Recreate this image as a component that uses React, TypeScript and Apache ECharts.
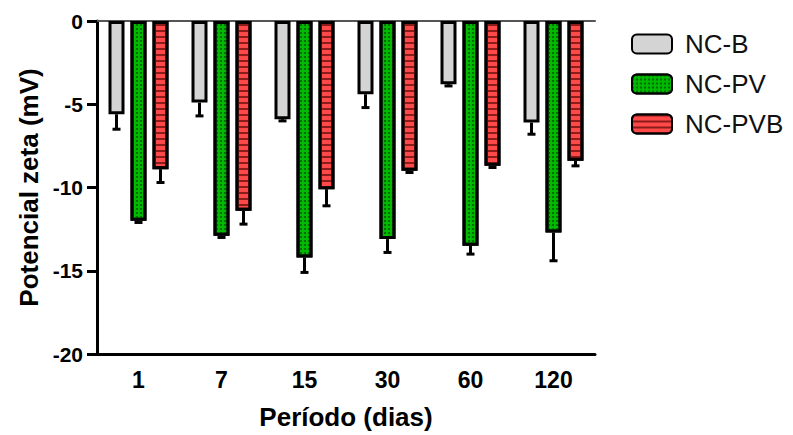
import React, { useEffect, useRef } from "react";
import * as echarts from "echarts";

// Período de armazenamento (dias)
const periods = ["1", "7", "15", "30", "60", "120"];

// Potencial zeta médio (mV) por formulação
const ncB = [-5.6, -4.9, -5.9, -4.4, -3.8, -6.1];
const ncPV = [-12.0, -12.9, -14.2, -13.1, -13.5, -12.7];
const ncPVB = [-8.9, -11.4, -10.1, -9.0, -8.7, -8.4];

// Desvio padrão (mV)
const ncBErr = [0.9, 0.8, 0.1, 0.8, 0.1, 0.7];
const ncPVErr = [0.1, 0.1, 0.9, 0.8, 0.5, 1.7];
const ncPVBErr = [0.8, 0.8, 1.0, 0.1, 0.1, 0.3];

const seriesNames = ["NC-B", "NC-PV", "NC-PVB"];

const BAR_W = 16;
const BAR_GAP = 6;
const FONT = "'Liberation Sans', Arial, sans-serif";

export default function App() {
  const ref = useRef<HTMLDivElement>(null);

  useEffect(() => {
    if (!ref.current) return;
    const chart = echarts.init(ref.current, undefined, { renderer: "svg" });

    const means = [ncB, ncPV, ncPVB];
    const errs = [ncBErr, ncPVErr, ncPVBErr];

    const errorData: number[][] = [];
    means.forEach((arr, s) => {
      arr.forEach((v, i) => errorData.push([i, v, v - errs[s][i], s]));
    });

    const barBase = {
      type: "bar" as const,
      barWidth: BAR_W,
      barGap: `${(BAR_GAP / BAR_W) * 100}%`,
      xAxisIndex: 0,
    };

    chart.setOption({
      animation: false,
      grid: { left: 97, top: 21, width: 498, height: 334, containLabel: false },
      legend: {
        orient: "vertical",
        left: 626,
        top: 26,
        itemWidth: 40,
        itemHeight: 19,
        itemGap: 14,
        icon: "roundRect",
        data: seriesNames,
        textStyle: { fontFamily: FONT, fontSize: 26, color: "#111", padding: [0, 0, 0, 8] },
      },
      xAxis: [
        {
          type: "category",
          data: periods,
          position: "bottom",
          axisLine: { onZero: false, lineStyle: { color: "#000", width: 3 } },
          axisTick: { alignWithLabel: true, length: 10, lineStyle: { color: "#000", width: 3 } },
          axisLabel: {
            fontFamily: FONT,
            fontSize: 23,
            fontWeight: "bold",
            color: "#000",
            margin: 14,
          },
          name: "Período (dias)",
          nameLocation: "middle",
          nameGap: 50,
          nameTextStyle: { fontFamily: FONT, fontSize: 26, fontWeight: "bold", color: "#000" },
        },
        {
          type: "category",
          data: periods,
          position: "top",
          axisLine: { onZero: false, lineStyle: { color: "#555", width: 2 } },
          axisTick: { show: false },
          axisLabel: { show: false },
        },
      ],
      yAxis: {
        type: "value",
        min: -20,
        max: 0,
        interval: 5,
        axisLine: { show: true, lineStyle: { color: "#000", width: 3 } },
        axisTick: { show: true, length: 10, lineStyle: { color: "#000", width: 3 } },
        splitLine: { show: false },
        axisLabel: {
          fontFamily: FONT,
          fontSize: 21,
          fontWeight: "bold",
          color: "#000",
          margin: 14,
        },
        name: "Potencial zeta (mV)",
        nameLocation: "middle",
        nameGap: 54,
        nameTextStyle: { fontFamily: FONT, fontSize: 26, fontWeight: "bold", color: "#000" },
      },
      series: [
        {
          ...barBase,
          name: "NC-B",
          data: ncB,
          itemStyle: { color: "#d4d4d4", borderColor: "#000", borderWidth: 3 },
        },
        {
          ...barBase,
          name: "NC-PV",
          data: ncPV,
          itemStyle: {
            color: "#00bb00",
            borderColor: "#000",
            borderWidth: 3,
            decal: {
              symbol: "circle",
              symbolSize: 1,
              dashArrayX: [1.6, 1.6],
              dashArrayY: [1.6, 1.6],
              color: "#0a5a0a",
            },
          },
        },
        {
          ...barBase,
          name: "NC-PVB",
          data: ncPVB,
          itemStyle: {
            color: "#ff4848",
            borderColor: "#000",
            borderWidth: 3,
            decal: {
              symbol: "rect",
              symbolSize: 1,
              dashArrayX: [1, 0],
              dashArrayY: [1.5, 3.5],
              color: "#8a1c1c",
            },
          },
        },
        {
          type: "custom",
          name: "erro",
          xAxisIndex: 0,
          z: 1,
          silent: true,
          data: errorData,
          renderItem: (params: any, api: any) => {
            const i = api.value(0);
            const s = api.value(3);
            const off = (s - 1) * (BAR_W + BAR_GAP);
            const p0 = api.coord([i, api.value(1)]);
            const p1 = api.coord([i, api.value(2)]);
            const x = p0[0] + off;
            const style = { stroke: "#000", lineWidth: 3 };
            return {
              type: "group",
              children: [
                { type: "line", shape: { x1: x, y1: p0[1], x2: x, y2: p1[1] }, style },
                { type: "line", shape: { x1: x - 4, y1: p1[1], x2: x + 4, y2: p1[1] }, style },
              ],
            };
          },
        },
      ],
    });

    return () => chart.dispose();
  }, []);

  return (
    <div
      ref={ref}
      style={{ position: "absolute", left: 0, top: 0, width: 793, height: 435 }}
    />
  );
}
